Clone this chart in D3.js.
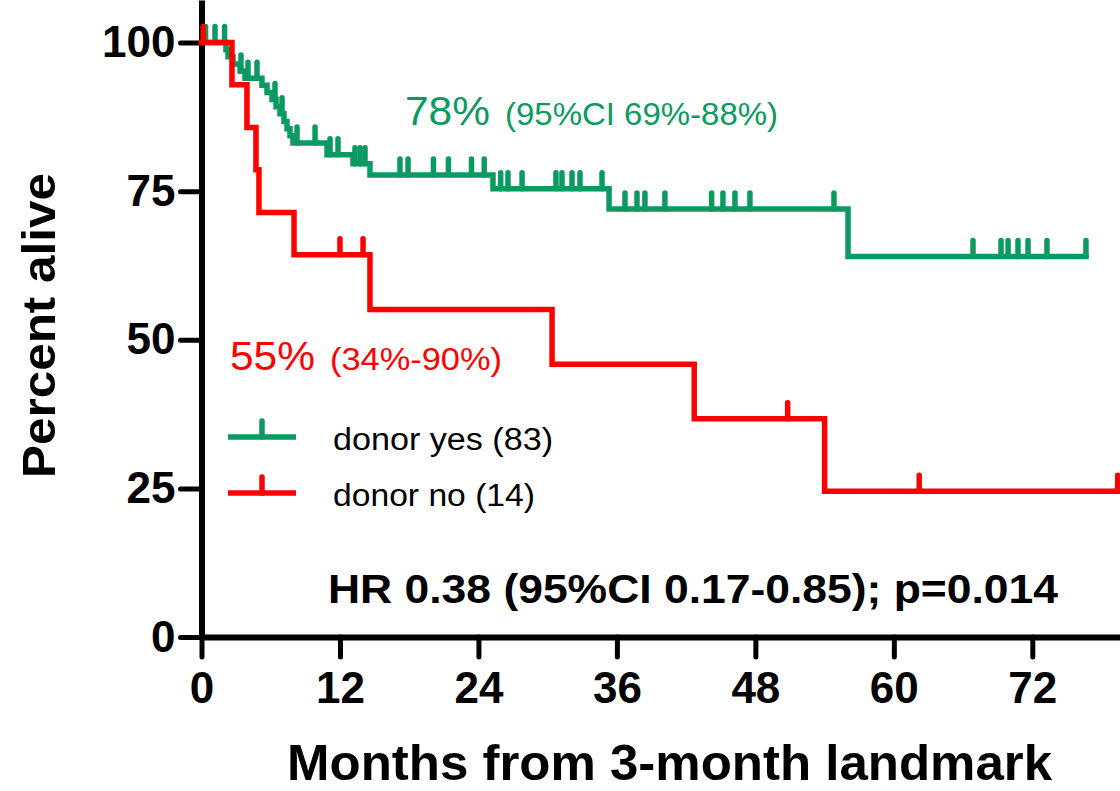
<!DOCTYPE html>
<html>
<head>
<meta charset="utf-8">
<script src="https://cdn.jsdelivr.net/npm/d3@7"></script>
<style>
  html, body { margin: 0; padding: 0; background: #fff; }
  svg { display: block; }
  text { font-family: "Liberation Sans", Arial, sans-serif; }
</style>
</head>
<body>
<script>
// ---------- data ----------
const xTickValues = [0, 12, 24, 36, 48, 60, 72];
const yTickValues = [0, 25, 50, 75, 100];

// donor yes (83): event times (months) and survival (%) after each event
const yesEventTimes = [2.12, 2.30, 2.73, 3.34, 3.77, 5.24, 5.68, 6.11, 6.46, 6.80, 7.15, 7.41, 7.67, 7.93,
                       10.88, 13.13, 14.60, 25.26, 35.32, 56.03];
const yesSurvival   = [98.8, 97.6, 96.4, 95.2, 94.0, 92.8, 91.6, 90.4, 89.2, 88.0, 86.7, 85.5, 84.3, 83.1,
                       81.1, 79.6, 77.7, 75.4, 72.0, 64.0];
const yesCensored   = [0.35, 1.17, 2.0, 3.42, 4.03, 4.81, 6.37, 6.98, 8.28, 9.84, 11.14, 11.83, 13.3, 13.74, 14.17,
                       17.2, 17.9, 20.1, 21.4, 23.4, 24.5,
                       25.93, 26.56, 27.78, 30.72, 31.24, 32.11, 32.8, 34.71,
                       36.7, 37.74, 38.43, 40.16, 44.21, 45.19, 46.23, 47.53, 54.81,
                       66.86, 69.29, 69.9, 70.76, 71.63, 73.27, 76.65];
const yesEnd = 76.65;

// donor no (14)
const noEventTimes = [2.64, 3.94, 4.72, 4.98, 8.02, 14.6, 30.38, 42.7, 54.0];
const noSurvival   = [92.9, 85.7, 78.6, 71.4, 64.3, 55.1, 45.9, 36.7, 24.5];
const noCensored   = [0.15, 12.0, 14.0, 50.8, 62.2, 79.4];
const noEnd = 79.6;

const seriesNames = ["donor yes (83)", "donor no (14)"];
const seriesColors = ["#0b9a61", "#ff0000"];

// ---------- layout ----------
const W = 1120, H = 791;
const svg = d3.select("body").append("svg").attr("width", W).attr("height", H);

const x = d3.scaleLinear().domain([0, 79.6]).range([201.5, 1120]);
const y = d3.scaleLinear().domain([0, 107.15]).range([637, 0]);

function survAt(times, surv, t) {
  let s = 100;
  for (let i = 0; i < times.length; i++) if (times[i] <= t) s = surv[i];
  return s;
}
function stepPoints(times, surv, end) {
  const pts = [[0, 100]];
  times.forEach((t, i) => pts.push([t, surv[i]]));
  pts.push([end, surv[surv.length - 1]]);
  return pts;
}
const line = d3.line().x(d => x(d[0])).y(d => y(d[1])).curve(d3.curveStepAfter);

function drawSeries(times, surv, cens, end, color) {
  const g = svg.append("g");
  g.append("path").datum(stepPoints(times, surv, end))
    .attr("d", line).attr("fill", "none").attr("stroke", color)
    .attr("stroke-width", 5.5).attr("stroke-linejoin", "miter").attr("stroke-linecap", "square");
  g.selectAll("line.c").data(cens).enter().append("line")
    .attr("x1", d => x(d)).attr("x2", d => x(d))
    .attr("y1", d => y(survAt(times, surv, d)))
    .attr("y2", d => y(survAt(times, surv, d)) - 16)
    .attr("stroke", color).attr("stroke-width", 5.5).attr("stroke-linecap", "round");
}

// axes
const xAxis = d3.axisBottom(x).tickValues(xTickValues).tickSize(20).tickSizeOuter(0).tickPadding(15);
const yAxis = d3.axisLeft(y).tickValues(yTickValues).tickSize(21).tickSizeOuter(0).tickPadding(5);

const gx = svg.append("g").attr("transform", `translate(0,${y(0)})`).call(xAxis);
const gy = svg.append("g").attr("transform", `translate(${x(0)},0)`).call(yAxis);
[gx, gy].forEach(g => {
  g.select(".domain").attr("stroke", "#000").attr("stroke-width", 6);
  g.selectAll(".tick line").attr("stroke", "#000").attr("stroke-width", 5).attr("stroke-linecap", "round");
  g.selectAll(".tick text").attr("fill", "#000").attr("font-size", 44).attr("font-weight", "bold")
    .attr("font-family", "Liberation Sans, Arial, sans-serif");
});

// curves (red on top)
drawSeries(yesEventTimes, yesSurvival, yesCensored, yesEnd, seriesColors[0]);
drawSeries(noEventTimes, noSurvival, noCensored, noEnd, seriesColors[1]);

// legend
const legendY = [437, 493];
seriesNames.forEach((name, i) => {
  svg.append("line").attr("x1", 228).attr("x2", 296).attr("y1", legendY[i]).attr("y2", legendY[i])
    .attr("stroke", seriesColors[i]).attr("stroke-width", 5.5);
  svg.append("line").attr("x1", 262).attr("x2", 262).attr("y1", legendY[i]).attr("y2", legendY[i] - 16)
    .attr("stroke", seriesColors[i]).attr("stroke-width", 5.5).attr("stroke-linecap", "round");
  svg.append("text").attr("x", 333).attr("y", legendY[i] + 13).attr("font-size", 31)
    .attr("textLength", i === 0 ? 220 : 202).attr("lengthAdjust", "spacingAndGlyphs")
    .attr("fill", "#000").text(name);
});

// annotations
function txt(t, x0, y0, size, len, color, bold) {
  svg.append("text").attr("x", x0).attr("y", y0).attr("font-size", size)
    .attr("textLength", len).attr("lengthAdjust", "spacingAndGlyphs")
    .attr("font-weight", bold ? "bold" : "normal").attr("fill", color).text(t);
}
txt("78%", 405, 125, 40, 85, seriesColors[0], false);
txt("(95%CI 69%-88%)", 505, 125, 32, 273, seriesColors[0], false);
txt("55%", 230, 370, 40, 85, seriesColors[1], false);
txt("(34%-90%)", 330, 370, 32, 172, seriesColors[1], false);
txt("HR 0.38 (95%CI 0.17-0.85); p=0.014", 328, 603, 41, 730, "#000", true);
txt("Months from 3-month landmark", 287, 780, 50, 765, "#000", true);

svg.append("text").attr("transform", "translate(55,325.5) rotate(-90)")
  .attr("text-anchor", "middle").attr("font-size", 47).attr("font-weight", "bold")
  .attr("textLength", 305).attr("lengthAdjust", "spacingAndGlyphs")
  .attr("fill", "#000").text("Percent alive");
</script>
</body>
</html>
